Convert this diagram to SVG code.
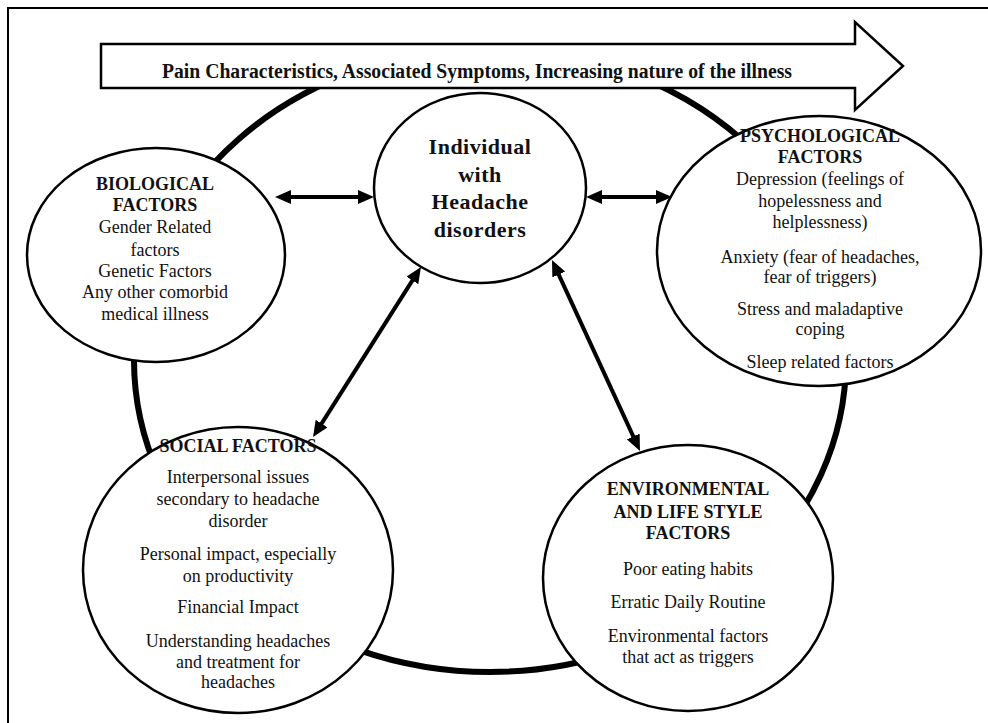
<svg xmlns="http://www.w3.org/2000/svg" width="988" height="723" viewBox="0 0 988 723">
<style>
  .node { fill: #ffffff; stroke: #000000; stroke-width: 2.5; }
  .t { font-family: "Liberation Serif", "Times New Roman", serif; font-size: 18px; fill: #111; text-anchor: middle; }
  .b { font-weight: bold; }
  .c { font-family: "Liberation Serif", "Times New Roman", serif; font-size: 22px; font-weight: bold; fill: #111; text-anchor: middle; letter-spacing: 0.5px; }
  .conn { stroke: #000; stroke-width: 4; fill: none; marker-start: url(#ah); marker-end: url(#ah); }
</style>
<defs>
  <marker id="ah" markerUnits="userSpaceOnUse" markerWidth="16" markerHeight="14" refX="6" refY="7" orient="auto-start-reverse">
    <path d="M0,0 L16,7 L0,14 Z" fill="#000"/>
  </marker>
</defs>
<rect width="988" height="723" fill="#ffffff"/>
<g id="frame">
  <path d="M8,723 L8,8 L988,8" fill="none" stroke="#000" stroke-width="2"/>
</g>
<g id="ring">
  <ellipse cx="490" cy="360" rx="356" ry="312" fill="none" stroke="#000" stroke-width="6"/>
</g>
<g id="connectors">
  <line class="conn" x1="285" y1="197" x2="364" y2="197"/>
  <line class="conn" x1="596" y1="197" x2="662" y2="197"/>
  <line class="conn" x1="415.6" y1="275.4" x2="318.4" y2="428.6"/>
  <line class="conn" x1="556.2" y1="269.1" x2="635.8" y2="441.9"/>
</g>
<g id="banner">
  <path d="M101,44 L855,44 L855,22 L903,66 L855,110 L855,88 L101,88 Z" fill="#fff" stroke="#000" stroke-width="2.5"/>
  <text x="477" y="78" font-family="Liberation Serif, Times New Roman, serif" font-size="20" font-weight="bold" fill="#111" text-anchor="middle" textLength="630" lengthAdjust="spacingAndGlyphs">Pain Characteristics, Associated Symptoms, Increasing nature of the illness</text>
</g>
<g id="center">
  <ellipse class="node" cx="480" cy="188" rx="106" ry="95"/>
  <text class="c" x="480" y="154">Individual</text>
  <text class="c" x="480" y="182">with</text>
  <text class="c" x="480" y="209">Headache</text>
  <text class="c" x="480" y="237">disorders</text>
</g>
<g id="biological">
  <ellipse class="node" cx="156" cy="255" rx="129" ry="107"/>
  <text class="t b" x="155" y="190">BIOLOGICAL</text>
  <text class="t b" x="155" y="211">FACTORS</text>
  <text class="t" x="155" y="233">Gender Related</text>
  <text class="t" x="155" y="256">factors</text>
  <text class="t" x="155" y="277">Genetic Factors</text>
  <text class="t" x="155" y="298">Any other comorbid</text>
  <text class="t" x="155" y="320">medical illness</text>
</g>
<g id="psychological">
  <ellipse class="node" cx="819" cy="251" rx="162" ry="135"/>
  <text class="t b" x="820" y="142">PSYCHOLOGICAL</text>
  <text class="t b" x="820" y="163">FACTORS</text>
  <text class="t" x="820" y="185">Depression (feelings of</text>
  <text class="t" x="820" y="207">hopelessness and</text>
  <text class="t" x="820" y="228">helplessness)</text>
  <text class="t" x="820" y="263">Anxiety (fear of headaches,</text>
  <text class="t" x="820" y="283">fear of triggers)</text>
  <text class="t" x="820" y="315">Stress and maladaptive</text>
  <text class="t" x="820" y="335">coping</text>
  <text class="t" x="820" y="368">Sleep related factors</text>
</g>
<g id="social">
  <ellipse class="node" cx="238" cy="570" rx="155" ry="143"/>
  <text class="t b" x="238" y="452">SOCIAL FACTORS</text>
  <text class="t" x="238" y="483">Interpersonal issues</text>
  <text class="t" x="238" y="505">secondary to headache</text>
  <text class="t" x="238" y="527">disorder</text>
  <text class="t" x="238" y="560">Personal impact, especially</text>
  <text class="t" x="238" y="582">on productivity</text>
  <text class="t" x="238" y="613">Financial Impact</text>
  <text class="t" x="238" y="647">Understanding headaches</text>
  <text class="t" x="238" y="668">and treatment for</text>
  <text class="t" x="238" y="688">headaches</text>
</g>
<g id="environmental">
  <ellipse class="node" cx="688" cy="578" rx="145" ry="133"/>
  <text class="t b" x="688" y="495">ENVIRONMENTAL</text>
  <text class="t b" x="688" y="518">AND LIFE STYLE</text>
  <text class="t b" x="688" y="539">FACTORS</text>
  <text class="t" x="688" y="575">Poor eating habits</text>
  <text class="t" x="688" y="608">Erratic Daily Routine</text>
  <text class="t" x="688" y="642">Environmental factors</text>
  <text class="t" x="688" y="663">that act as triggers</text>
</g>
</svg>
